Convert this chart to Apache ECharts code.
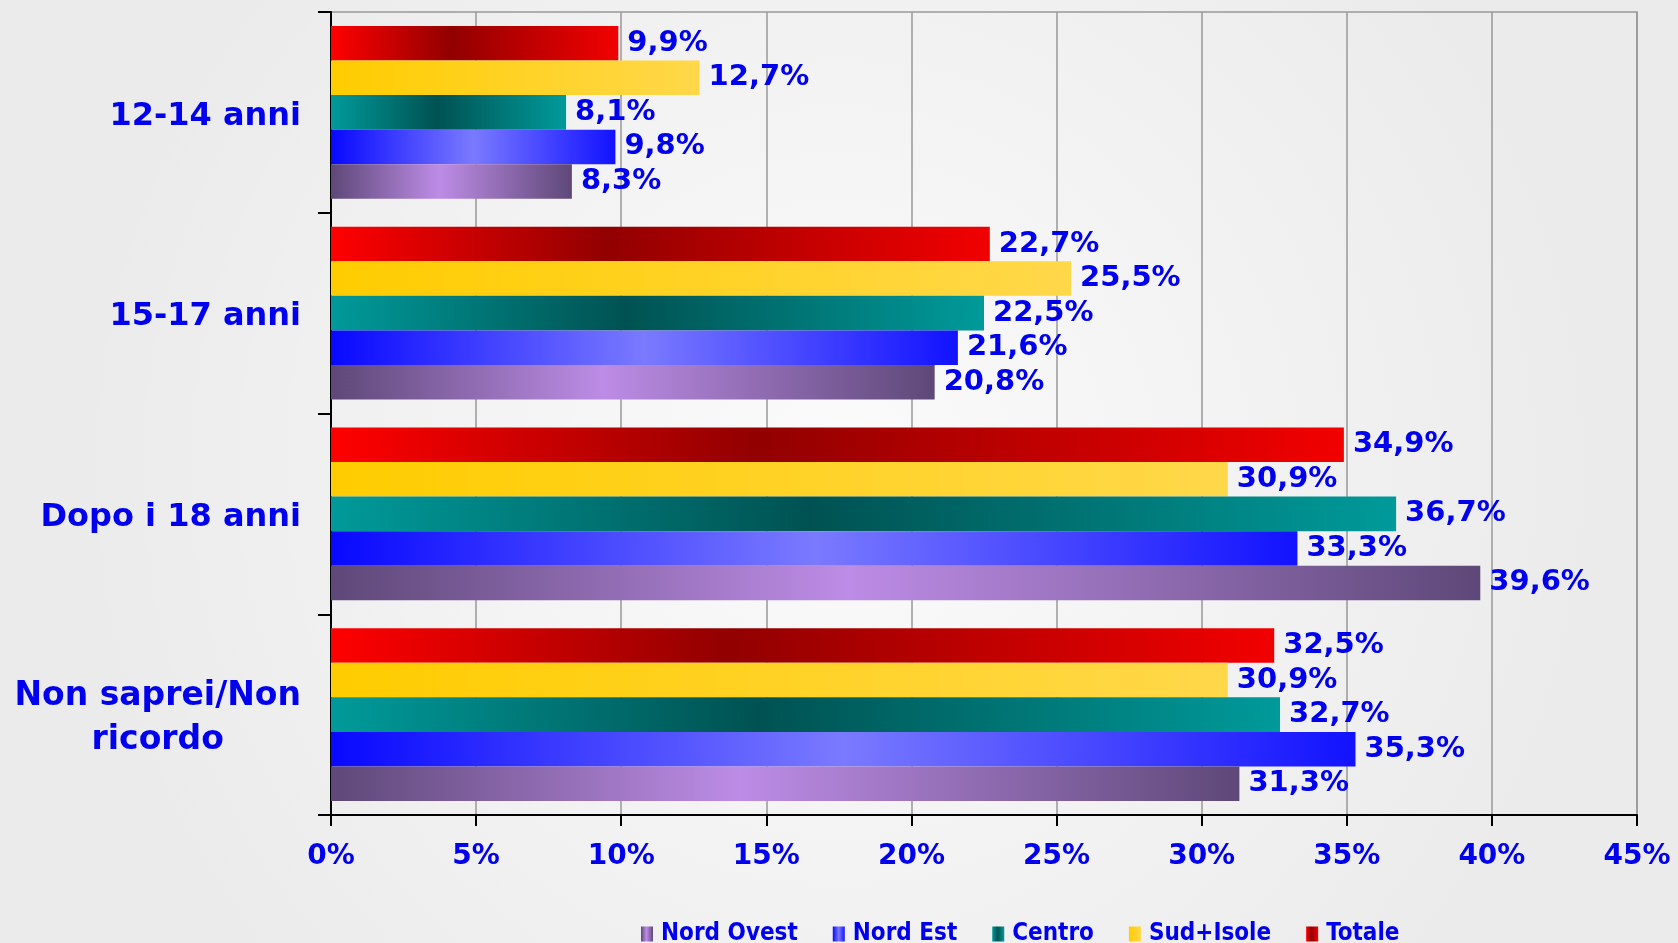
<!DOCTYPE html>
<html>
<head>
<meta charset="utf-8">
<title>Età</title>
<script src="https://cdn.jsdelivr.net/npm/echarts@6/dist/echarts.min.js"></script>
<style>
  html, body { margin: 0; padding: 0; }
  #chart { width: 1678px; height: 943px; }
</style>
</head>
<body>
<div id="chart"></div>
<script>
// categories listed bottom -> top (first one sits at the bottom of the y axis)
var categories = ['Non saprei/Non\nricordo', 'Dopo i 18 anni', '15-17 anni', '12-14 anni'];
var seriesNames = ['Nord Ovest', 'Nord Est', 'Centro', 'Sud+Isole', 'Totale'];

var nordOvest = [31.3, 39.6, 20.8, 8.3];
var nordEst   = [35.3, 33.3, 21.6, 9.8];
var centro    = [32.7, 36.7, 22.5, 8.1];
var sudIsole  = [30.9, 30.9, 25.5, 12.7];
var totale    = [32.5, 34.9, 22.7, 9.9];

var xTicks = [0, 5, 10, 15, 20, 25, 30, 35, 40, 45];

var blue = '#0000ee';

function grad(stops) {
    return new echarts.graphic.LinearGradient(0, 0, 1, 0, stops.map(function (s) {
        return {offset: s[0], color: s[1]};
    }));
}

var fills = [
    grad([[0, '#5e4878'], [0.45, '#bd8ce6'], [1, '#5e4878']]),
    grad([[0, '#0808ff'], [0.5, '#7a7aff'], [1, '#1212ff']]),
    grad([[0, '#009a9a'], [0.45, '#005252'], [1, '#009a9a']]),
    grad([[0, '#ffcc00'], [1, '#ffd84a']]),
    grad([[0, '#ff0000'], [0.42, '#920000'], [1, '#f20000']])
];
var values = [nordOvest, nordEst, centro, sudIsole, totale];

var chart = echarts.init(document.getElementById('chart'));

// ECharts stacks the first series at the top of each group, so feed them reversed
var order = [4, 3, 2, 1, 0];

var option = {
    animation: false,
    backgroundColor: new echarts.graphic.RadialGradient(0.5, 0.5, 0.8, [
        {offset: 0, color: '#fbfbfb'},
        {offset: 1, color: '#ebebeb'}
    ]),
    grid: {
        left: 331, right: 41, top: 12, bottom: 128,
        show: true, borderColor: '#999', borderWidth: 1.5
    },
    legend: {
        data: seriesNames,
        left: 636, top: 917,
        icon: 'rect', itemWidth: 12, itemHeight: 15, itemGap: 35,
        textStyle: {
            color: blue, fontFamily: "'DejaVu Sans Condensed', 'Liberation Sans'", fontWeight: 'bold',
            fontSize: 24, padding: [0, 0, 0, 3]
        }
    },
    xAxis: {
        type: 'value', min: xTicks[0], max: xTicks[xTicks.length - 1], interval: 5,
        axisLine: {show: true, lineStyle: {color: '#000', width: 2}},
        axisTick: {show: true, length: 11, lineStyle: {color: '#000', width: 2}},
        splitLine: {show: true, lineStyle: {color: '#999', width: 1.5}},
        axisLabel: {
            margin: 28, color: blue, fontFamily: 'DejaVu Sans', fontWeight: 'bold', fontSize: 28,
            formatter: function (v) { return v + '%'; }
        }
    },
    yAxis: {
        type: 'category', data: categories,
        axisLine: {show: true, lineStyle: {color: '#000', width: 2}},
        axisTick: {show: true, length: 13, lineStyle: {color: '#000', width: 2}},
        axisLabel: {
            margin: 30, color: blue, fontFamily: 'DejaVu Sans', fontWeight: 'bold', fontSize: 32,
            padding: [8, 0, 0, 0],
            formatter: function (v) {
                if (v.indexOf('\n') < 0) return v;
                return v.split('\n').map(function (s) { return '{c|' + s + '}'; }).join('\n');
            },
            rich: {
                c: {align: 'center', color: blue, fontFamily: 'DejaVu Sans', fontWeight: 'bold',
                    fontSize: 33, lineHeight: 44}
            }
        }
    },
    series: order.map(function (i) {
        return {
            name: seriesNames[i],
            type: 'bar',
            data: values[i],
            barGap: '0%',
            barCategoryGap: '14%',
            itemStyle: {color: fills[i]},
            label: {
                show: true, position: 'right', distance: 9,
                color: blue, fontFamily: 'DejaVu Sans', fontWeight: 'bold', fontSize: 29,
                formatter: function (p) { return p.value.toFixed(1).replace('.', ',') + '%'; }
            }
        };
    })
};

chart.setOption(option);
</script>
</body>
</html>
